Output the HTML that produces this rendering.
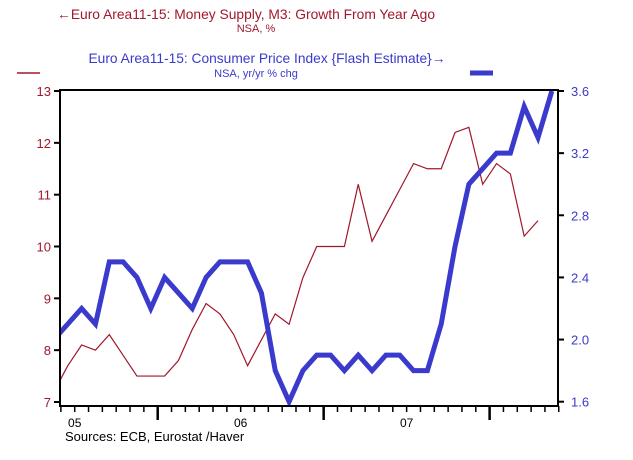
<!DOCTYPE html>
<html><head><meta charset="utf-8"><style>
body{margin:0;background:#fff;width:633px;height:460px;overflow:hidden}
svg{display:block;font-family:"Liberation Sans",Arial,sans-serif}
</style></head><body>
<svg id="chart" width="633" height="460">
<text x="246" y="19" text-anchor="middle" font-size="14" textLength="378" lengthAdjust="spacingAndGlyphs" fill="#a0182c">←Euro Area11-15: Money Supply, M3: Growth From Year Ago</text>
<text x="256" y="32" text-anchor="middle" font-size="11" fill="#a0182c">NSA, %</text>
<text x="267" y="63" text-anchor="middle" font-size="14" textLength="357" lengthAdjust="spacingAndGlyphs" fill="#3a3acc">Euro Area11-15: Consumer Price Index {Flash Estimate}→</text>
<text x="256" y="77" text-anchor="middle" font-size="11" fill="#3a3acc">NSA, yr/yr % chg</text>
<line x1="17" y1="73" x2="40" y2="73" stroke="#a0182c" stroke-width="1.5"/>
<line x1="470" y1="73" x2="493" y2="73" stroke="#3a3acc" stroke-width="5"/>
<defs><clipPath id="plotclip"><rect x="60" y="88" width="498" height="318"/></clipPath></defs>
<g id="axes"></g>
<g id="series" clip-path="url(#plotclip)"></g>
<rect x="60" y="90" width="498" height="316" fill="none" stroke="#000" stroke-width="2"/>
<text x="65" y="441" font-size="13" fill="#000">Sources:  ECB, Eurostat /Haver</text>
</svg>
<script>
// months starting May 2005 (index 0) to May 2008
const m3Growth = [7.2,7.7,8.1,8.0,8.3,7.9,7.5,7.5,7.5,7.8,8.4,8.9,8.7,8.3,7.7,8.2,8.7,8.5,9.4,10.0,10.0,10.0,11.2,10.1,10.6,11.1,11.6,11.5,11.5,12.2,12.3,11.2,11.6,11.4,10.2,10.5];
const cpiFlash = [2.0,2.1,2.2,2.1,2.5,2.5,2.4,2.2,2.4,2.3,2.2,2.4,2.5,2.5,2.5,2.3,1.8,1.6,1.8,1.9,1.9,1.8,1.9,1.8,1.9,1.9,1.8,1.8,2.1,2.6,3.0,3.1,3.2,3.2,3.5,3.3,3.6];
const leftTicks = [7,8,9,10,11,12,13];
const rightTicks = [1.6,2.0,2.4,2.8,3.2,3.6];
const yearLabels = ["05","06","07"];
const yearCenterIdx = [0.5,12.5,24.5];

const NS="http://www.w3.org/2000/svg";
const axes=document.getElementById('axes');
const series=document.getElementById('series');
const xS=i=>67.8+13.83*(i-1);
const yL=v=>402-(v-7)*51.83;
const yR=v=>401.7-(v-1.6)*155.35;
function mk(tag,attrs,parent){const e=document.createElementNS(NS,tag);for(const k in attrs)e.setAttribute(k,attrs[k]);parent.appendChild(e);return e;}

leftTicks.forEach(v=>{
  const y=yL(v);
  const t=mk('line',{x1:54,y1:y,x2:60,y2:y,stroke:'#000','stroke-width':2},axes);
  
  
  const l=mk('text',{x:51,y:y+5,'text-anchor':'end','font-size':13,fill:'#a0182c'},axes);
  l.textContent=v;
  
  
});
rightTicks.forEach(v=>{
  const y=yR(v);
  const t=mk('line',{x1:558,y1:y,x2:564,y2:y,stroke:'#000','stroke-width':2},axes);
  
  
  const l=mk('text',{x:571,y:y+5,'font-size':13,fill:'#3a3acc'},axes);
  l.textContent=v.toFixed(1);
  
  
});
for(let k=0;k<=36;k++){
  const x=xS(k+0.5);
  if(x<59||x>560) continue;
  const major=(k-7)%12===0;
  const t=mk('line',{x1:x,y1:406,x2:x,y2:major?420:412,stroke:'#000','stroke-width':major?2.5:1.5},axes);
  
  
}
yearLabels.forEach((s,j)=>{
  const x=Math.max(xS(yearCenterIdx[j]+1),73);
  const l=mk('text',{x:x,y:427,'text-anchor':'middle','font-size':12,fill:'#000'},axes);
  l.textContent=s;
  
  
});
const rp=mk('polyline',{points:m3Growth.map((v,i)=>xS(i)+','+yL(v)).join(' '),fill:'none',stroke:'#a0182c','stroke-width':1.2},series);


const bp=mk('polyline',{points:cpiFlash.map((v,i)=>xS(i)+','+yR(v)).join(' '),fill:'none',stroke:'#3a3acc','stroke-width':5,'stroke-linejoin':'miter'},series);


</script>
</body></html>
